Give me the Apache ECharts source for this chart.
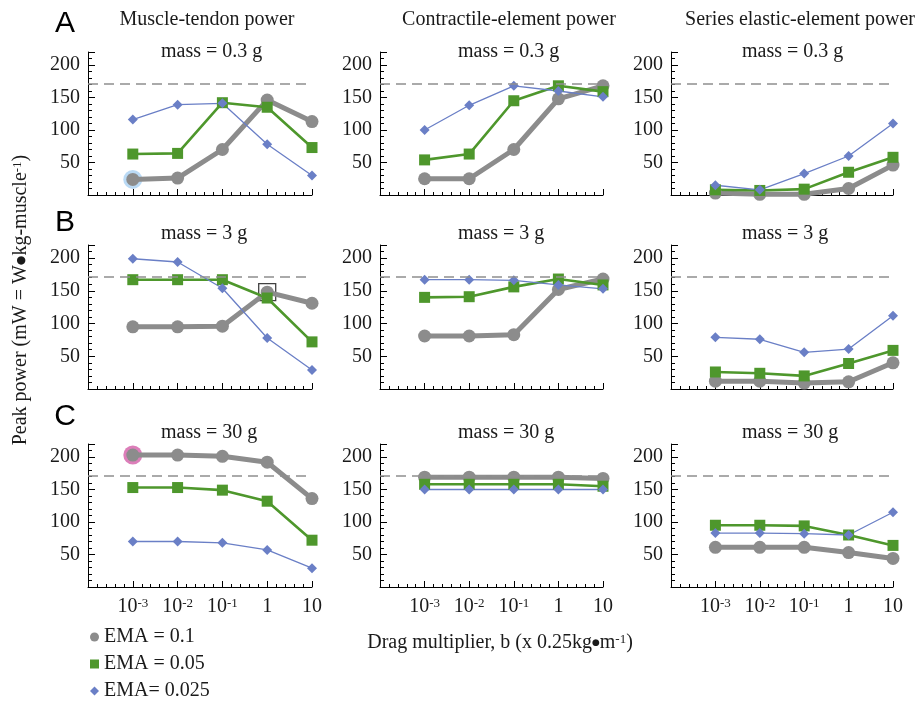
<!DOCTYPE html>
<html>
<head>
<meta charset="utf-8">
<script src="https://cdn.jsdelivr.net/npm/echarts@6/dist/echarts.min.js"></script>
<style>
  html, body { margin: 0; padding: 0; background: #fff; }
  #chart { width: 922px; height: 704px; }
</style>
</head>
<body>
<div id="chart"></div>
<script>
// drag multiplier b (x 0.25 kg·m^-1)
const dragMultiplier = [0.001, 0.01, 0.1, 1, 10]
const emaNames = ['EMA = 0.1', 'EMA = 0.05', 'EMA= 0.025']
const columnTitles = ['Muscle-tendon power', 'Contractile-element power', 'Series elastic-element power']
const massLabels = ['mass = 0.3 g', 'mass = 3 g', 'mass = 30 g']
const panelLetters = ['A', 'B', 'C']
const yTickValues = [50, 100, 150, 200]
const refPower = 171 // dashed line

// peak power (mW/g) per panel, rows: EMA 0.1, 0.05, 0.025
const mtMass03 = [[24, 26, 70, 146, 113], [63, 64, 142, 135, 73], [116, 139, 141, 78, 30]]
const ceMass03 = [[25, 25, 70, 148, 168], [54, 63, 145, 168, 159], [100, 138, 168, 160, 151]]
const seMass03 = [[3, 1, 1, 10, 46], [8, 7, 9, 35, 58], [15, 8, 33, 60, 110]]
const mtMass3 = [[95, 95, 96, 148, 131], [167, 167, 167, 139, 72], [199, 194, 154, 78, 29]]
const ceMass3 = [[81, 81, 83, 152, 168], [140, 141, 156, 168, 159], [167, 167, 166, 159, 153]]
const seMass3 = [[12, 12, 9, 11, 40], [26, 24, 20, 39, 59], [79, 76, 56, 61, 112]]
const mtMass30 = [[203, 203, 201, 192, 136], [153, 153, 149, 132, 72], [70, 70, 68, 57, 29]]
const ceMass30 = [[169, 169, 169, 169, 167], [158, 158, 158, 158, 155], [150, 150, 150, 150, 150]]
const seMass30 = [[61, 61, 61, 53, 44], [95, 95, 94, 80, 64], [83, 83, 82, 80, 115]]

const panels = [
  [mtMass03, ceMass03, seMass03],
  [mtMass3, ceMass3, seMass3],
  [mtMass30, ceMass30, seMass30]
]

const colors = ['#8c8c8c', '#4e972c', '#6a7fc6']
const serif = 'Liberation Serif'
const textColor = '#1a1a1a'

// layout in px
const colLeft = [88, 380, 671]
const colWidth = [224, 223, 222]
const rowTop = [52, 245, 444]
const rowHeight = [143, 144, 143]
const titleX = [207, 509, 800]
const massX = [161, 458, 742]
const massY = [52, 234, 433]
const letterY = [24, 223, 417]

const chart = echarts.init(document.getElementById('chart'))

const grids = []
const xAxes = []
const yAxes = []
const series = []

const xLabel = (v) => {
  if (v === 0) return '{n|1}'
  if (v === 1) return '{n|10}'
  if (v < 0 && v >= -3) return '{n|10}{s|' + v + '}'
  return ''
}

const toPoints = (vals) => dragMultiplier.map((b, i) => [Math.log10(b), vals[i]])

for (let r = 0; r < 3; r++) {
  for (let c = 0; c < 3; c++) {
    const p = r * 3 + c
    grids.push({ left: colLeft[c], top: rowTop[r], width: colWidth[c], height: rowHeight[r] })
    xAxes.push({
      gridIndex: p,
      type: 'value',
      min: -4,
      max: 1,
      interval: 1,
      axisLine: { onZero: false, lineStyle: { color: '#000', width: 1 } },
      axisTick: { inside: true, length: 6, lineStyle: { color: '#000' } },
      minorTick: { show: true, splitNumber: 5, length: 3, lineStyle: { color: '#000' } },
      splitLine: { show: false },
      axisLabel: {
        show: r === 2,
        margin: 10,
        formatter: xLabel,
        rich: {
          n: { fontFamily: serif, fontSize: 20, color: textColor },
          s: { fontFamily: serif, fontSize: 13, color: textColor, verticalAlign: 'top' }
        }
      }
    })
    yAxes.push({
      gridIndex: p,
      type: 'value',
      min: 0,
      max: 220,
      interval: 50,
      axisLine: { show: true, onZero: false, lineStyle: { color: '#000', width: 1 } },
      axisTick: { show: true, inside: true, length: 7, lineStyle: { color: '#000' } },
      minorTick: { show: true, splitNumber: 5, length: 4, lineStyle: { color: '#000' } },
      splitLine: { show: false },
      axisLabel: {
        margin: 8,
        fontFamily: serif,
        fontSize: 20,
        color: textColor,
        formatter: (v) => yTickValues.includes(v) ? String(v) : ''
      }
    })

    const data = panels[r][c]

    // highlighted points (muscle-tendon column only)
    if (c === 0 && r !== 1) {
      series.push({
        type: 'scatter',
        xAxisIndex: p,
        yAxisIndex: p,
        symbol: 'circle',
        symbolSize: 19,
        itemStyle: { color: r === 0 ? '#a9d1f3' : '#d35ea8' },
        data: [toPoints(data[0])[0]],
        silent: true
      })
    }

    for (let s = 0; s < 3; s++) {
      series.push({
        name: emaNames[s],
        type: 'line',
        xAxisIndex: p,
        yAxisIndex: p,
        data: toPoints(data[s]),
        symbol: ['circle', 'rect', 'diamond'][s],
        symbolSize: [13, 11, 10][s],
        showSymbol: true,
        lineStyle: { color: colors[s], width: [5, 2.6, 1.3][s], cap: 'round', join: 'round' },
        itemStyle: { color: colors[s] },
        silent: true,
        markLine: s === 0 ? {
          silent: true,
          symbol: 'none',
          label: { show: false },
          lineStyle: { color: '#8f8f8f', type: [10, 6], width: 1.6 },
          data: [{ yAxis: refPower }]
        } : undefined
      })
      if (s === 0 && r === 1 && c === 0) {
        series.push({
          type: 'scatter',
          xAxisIndex: p,
          yAxisIndex: p,
          symbol: 'rect',
          symbolSize: 17,
          itemStyle: { color: 'rgba(0,0,0,0)', borderColor: '#111', borderWidth: 1.3 },
          data: [toPoints(data[0])[3]],
          silent: true
        })
      }
    }
  }
}

const graphics = []
columnTitles.forEach((t, c) => {
  graphics.push({
    type: 'text', x: titleX[c], y: 20,
    style: { text: t, fontFamily: serif, fontSize: 20, fill: textColor, align: 'center', verticalAlign: 'middle' }
  })
})
for (let r = 0; r < 3; r++) {
  graphics.push({
    type: 'text', x: 65, y: letterY[r],
    style: { text: panelLetters[r], fontFamily: 'Liberation Sans', fontSize: 30, fill: '#000', align: 'center', verticalAlign: 'middle' }
  })
  for (let c = 0; c < 3; c++) {
    graphics.push({
      type: 'text', x: massX[c], y: massY[r],
      style: { text: massLabels[r], fontFamily: serif, fontSize: 20, fill: textColor, align: 'left', verticalAlign: 'middle' }
    })
  }
}
graphics.push({
  type: 'text', x: 21, y: 300, rotation: Math.PI / 2,
  style: {
    text: 'Peak power (mW = W{d|●}kg-muscle{s|-1})',
    fontFamily: serif, fontSize: 20, fill: textColor, align: 'center', verticalAlign: 'middle',
    rich: {
      s: { fontFamily: serif, fontSize: 13, fill: textColor, verticalAlign: 'top' },
      d: { fontFamily: 'DejaVu Sans', fontSize: 11, fill: textColor }
    }
  }
})
graphics.push({
  type: 'text', x: 500, y: 643,
  style: {
    text: 'Drag multiplier, b (x 0.25kg{d|●}m{s|-1})',
    fontFamily: serif, fontSize: 20, fill: textColor, align: 'center', verticalAlign: 'middle',
    rich: {
      s: { fontFamily: serif, fontSize: 13, fill: textColor, verticalAlign: 'top' },
      d: { fontFamily: 'DejaVu Sans', fontSize: 9, fill: textColor }
    }
  }
})

chart.setOption({
  animation: false,
  grid: grids,
  xAxis: xAxes,
  yAxis: yAxes,
  series: series,
  legend: {
    orient: 'vertical',
    left: 90,
    top: 627,
    padding: 0,
    itemWidth: 9,
    itemHeight: 9,
    itemGap: 7,
    selectedMode: false,
    textStyle: { fontFamily: serif, fontSize: 20, color: textColor, lineHeight: 20 },
    data: [
      { name: emaNames[0], icon: 'circle' },
      { name: emaNames[1], icon: 'rect' },
      { name: emaNames[2], icon: 'diamond' }
    ]
  },
  graphic: graphics
})
</script>
</body>
</html>
